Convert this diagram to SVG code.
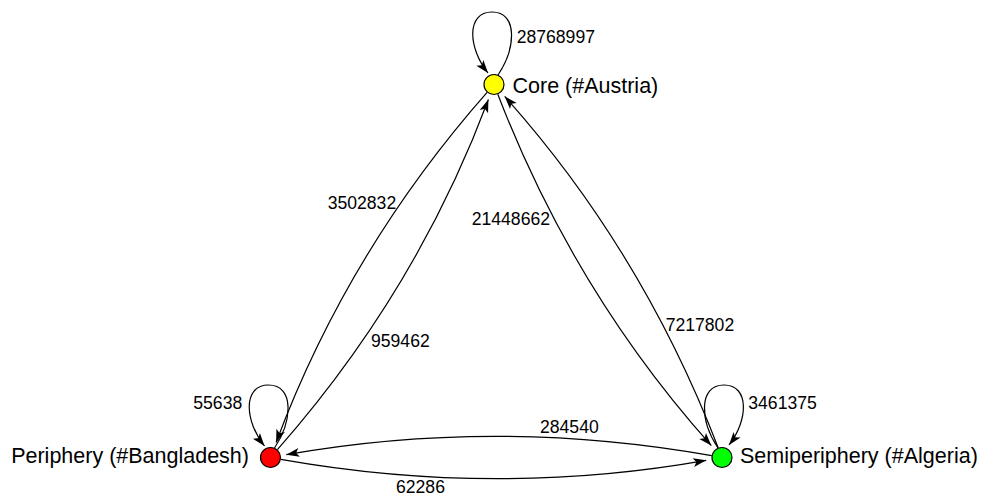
<svg xmlns="http://www.w3.org/2000/svg" width="987" height="496" viewBox="0 0 987 496">
<style>
.e{fill:none;stroke:#000;stroke-width:1.2;marker-end:url(#arr)}
.n{stroke:#000;stroke-width:1.2}
.vl{font-family:"Liberation Sans",Arial,sans-serif;font-size:21.5px;fill:#000}
.el{font-family:"Liberation Sans",Arial,sans-serif;font-size:17.6px;fill:#000}
</style>
<defs>
<marker id="arr" viewBox="-14 -6 15 12" refX="0" refY="0" markerWidth="15" markerHeight="12" markerUnits="userSpaceOnUse" orient="auto">
<path d="M0,0 L-13,-4.5 L-10,0 L-13,4.5 Z" fill="#000"/>
</marker>
</defs>
<rect width="987" height="496" fill="#fff"/>
<g id="edges">
<path class="e" d="M498,75 C516,48 518,12 492,12 C466,12 468,48 488,73"/>
<path class="e" d="M274.5,448 C292.5,421 294.5,385 268.5,385 C242.5,385 244.5,421 264.5,446"/>
<path class="e" d="M718,448 C700,421 698,385 724,385 C750,385 748,421 729,445"/>
<path class="e" d="M487.1,92.4 Q347.9,250.4 276.1,442.5"/>
<path class="e" d="M277.4,449.6 Q416.6,291.6 488.4,99.5"/>
<path class="e" d="M497.8,94.3 Q573.9,291.9 711.3,445.6"/>
<path class="e" d="M718.2,447.7 Q642.1,250.1 504.7,96.4"/>
<path class="e" d="M280.8,459.3 Q496.25,497.5 706.2,460.3"/>
<path class="e" d="M711.7,455.7 Q496.25,417.5 286.3,454.7"/>
<text class="el" x="516.7" y="42.7">28768997</text>
<text class="el" x="193.3" y="409.3">55638</text>
<text class="el" x="748.3" y="409.3">3461375</text>
<text class="el" x="327.7" y="209.3">3502832</text>
<text class="el" x="371" y="347.3">959462</text>
<text class="el" x="550" y="225" text-anchor="end">21448662</text>
<text class="el" x="665.7" y="330.7">7217802</text>
<text class="el" x="540" y="433.3">284540</text>
<text class="el" x="396" y="493">62286</text>
</g>
<g id="core">
<circle class="n" cx="494" cy="84.5" r="10" fill="#ffff00"/>
<text class="vl" x="512.5" y="93">Core (#Austria)</text>
</g>
<g id="periphery">
<circle class="n" cx="270.5" cy="457.5" r="10" fill="#ff0000"/>
<text class="vl" x="249" y="463" text-anchor="end">Periphery (#Bangladesh)</text>
</g>
<g id="semiperiphery">
<circle class="n" cx="722" cy="457.5" r="10" fill="#00ff00"/>
<text class="vl" x="740" y="463">Semiperiphery (#Algeria)</text>
</g>
</svg>
